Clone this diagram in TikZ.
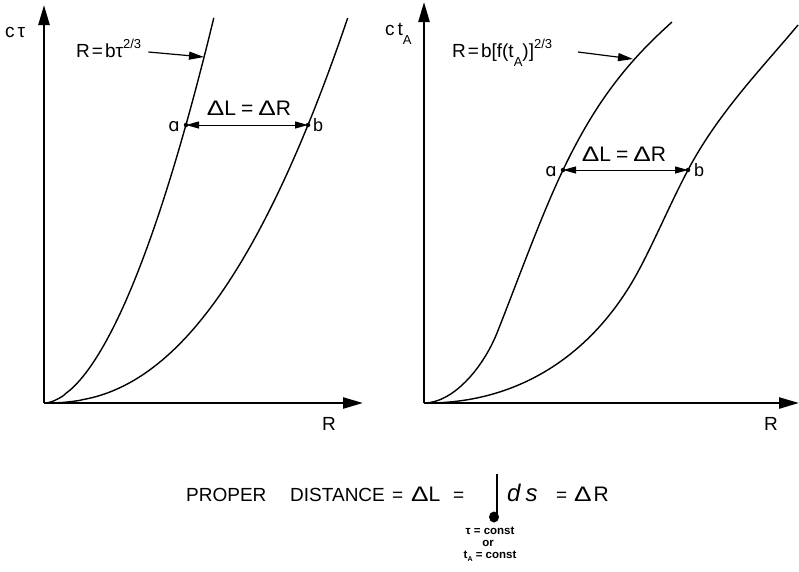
\documentclass[tikz,border=0pt]{standalone}
\usepackage{graphicx}
\usepackage{fontspec}
\setmainfont{Liberation Sans}
\newfontfamily\dvs{DejaVu Sans}
\newcommand\Dlt{\scalebox{1.25}[1]{Δ}}
\usetikzlibrary{arrows.meta}
\begin{document}
\begin{tikzpicture}[x=1pt,y=-1pt,
  axisline/.style={line width=2.4pt,-{Triangle[length=20pt,width=11pt]}},
  crv/.style={line width=1.4pt},
  ptr/.style={line width=1.2pt,-{Triangle[length=15pt,width=8pt]}},
  dl/.style={line width=1pt,{Triangle[length=13pt,width=7pt]}-{Triangle[length=13pt,width=7pt]}},
  txt/.style={inner sep=0pt, font=\fontsize{19}{19}\selectfont},
  big/.style={inner sep=0pt, font=\fontsize{21}{21}\selectfont},
  lt/.style={inner sep=0pt, font=\fontsize{18}{18}\selectfont},
  tinytxt/.style={inner sep=0pt, font=\bfseries\fontsize{11.5}{11.5}\selectfont},
  ptdot/.style={circle,fill,inner sep=0pt,minimum size=4.5pt}]
\useasboundingbox (0,0) rectangle (799,571);

% ---------- left panel ----------
\coordinate (O1) at (44,403);
\coordinate (Y1) at (44,5);
\coordinate (X1) at (363,403);
\draw[axisline] (O1) -- (Y1);
\draw[axisline] (O1) -- (X1);
\node[txt,anchor=base west] (ct1) at (5,37) {c\kern3pt τ};
\node[txt,anchor=base west] (R1) at (322,430) {R};

\draw[crv] (O1) -- plot[domain=0.002:1,samples=120,variable=\u] ({44+170*\u},{403-386*(\u)^(1.818)});
\draw[crv] (O1) -- plot[domain=0.002:1,samples=120,variable=\u] ({44+304*\u},{403-386*(\u)^(2.3256)});

\node[ptdot] (a1) at (186,125) {};
\node[ptdot] (b1) at (308,125) {};
\draw[dl] (a1.center) -- (b1.center);
\node[lt,anchor=base east] (la1) at (180,131) {\dvs ɑ};
\node[lt,anchor=base west] (lb1) at (313,131) {b};
\node[big,anchor=base] (dl1) at (249,115) {\Dlt L\hspace{5pt}=\hspace{5pt}\Dlt R};

\node[txt,anchor=base west] (f1) at (76,57) {R\hspace{2pt}=\hspace{2pt}bτ\raisebox{9pt}{\fontsize{13}{13}\selectfont 2/3}};
\coordinate (p1) at (204,57);
\draw[ptr] (f1.east |- 0,52) ++(7,0) -- (p1);

% ---------- right panel ----------
\coordinate (O2) at (424,403);
\coordinate (Y2) at (424,2);
\coordinate (X2) at (799,403);
\draw[axisline] (O2) -- (Y2);
\draw[axisline] (O2) -- (X2);
\node[txt,anchor=base west] (ct2) at (385,35) {c\kern3pt t\raisebox{-9pt}{\fontsize{13}{13}\selectfont A}};
\node[txt,anchor=base west] (R2) at (764,430) {R};

\draw[crv] (O2) .. controls (452,403) and (482,370) .. (497,333)
                .. controls (518,280) and (541,216) .. (563,170)
                .. controls (598,96.5) and (632,58) .. (672,22);
\draw[crv] (427,403) .. controls (520,403) and (595,353.5) .. (640,268)
                .. controls (656,237.6) and (672,200) .. (688,170)
                .. controls (718,113) and (763,67) .. (798,25);

\node[ptdot] (a2) at (563,170) {};
\node[ptdot] (b2) at (688,170) {};
\draw[dl] (a2.center) -- (b2.center);
\node[lt,anchor=base east] (la2) at (557,176) {\dvs ɑ};
\node[lt,anchor=base west] (lb2) at (694,176) {b};
\node[big,anchor=base] (dl2) at (624,161) {\Dlt L\hspace{5pt}=\hspace{5pt}\Dlt R};

\node[txt,anchor=base west] (f2) at (452,57) {R\hspace{2pt}=\hspace{2pt}b[f(t\raisebox{-9pt}{\fontsize{13}{13}\selectfont A})]\raisebox{9pt}{\fontsize{13}{13}\selectfont 2/3}};
\coordinate (p2) at (633,59);
\draw[ptr] (578,52) -- (p2);

% ---------- formula ----------
\node[txt,anchor=base west] (pd1) at (186,501) {PROPER};
\node[txt,anchor=base west] (pd2) at (290,501) {DISTANCE};
\node[txt,anchor=base west] (eq1) at (392,501) {=};
\node[big,anchor=base west] (dL) at (411,501) {\Dlt L};
\node[txt,anchor=base west] (eq2) at (453,501) {=};
\coordinate (iT) at (497,474);
\coordinate (iB) at (497,515);
\draw[line width=2.6pt] (iT) -- (iB);
\fill (494,517) ellipse (5pt and 5.5pt);
\node[anchor=base west,inner sep=0pt,font=\itshape\fontsize{24}{24}\selectfont] (ds) at (507,501) {d\hspace{5pt}s};
\node[txt,anchor=base west] (eq3) at (556,501) {=};
\node[big,anchor=base west] (dR) at (574,501) {\Dlt\hspace{2pt}R};
\node[tinytxt] (c1) at (490,531) {τ = const};
\node[tinytxt] (c2) at (488,543) {or};
\node[tinytxt] (c3) at (490,556) {t\raisebox{-3pt}{\fontsize{7}{7}\selectfont A} = const};
\end{tikzpicture}
\end{document}
